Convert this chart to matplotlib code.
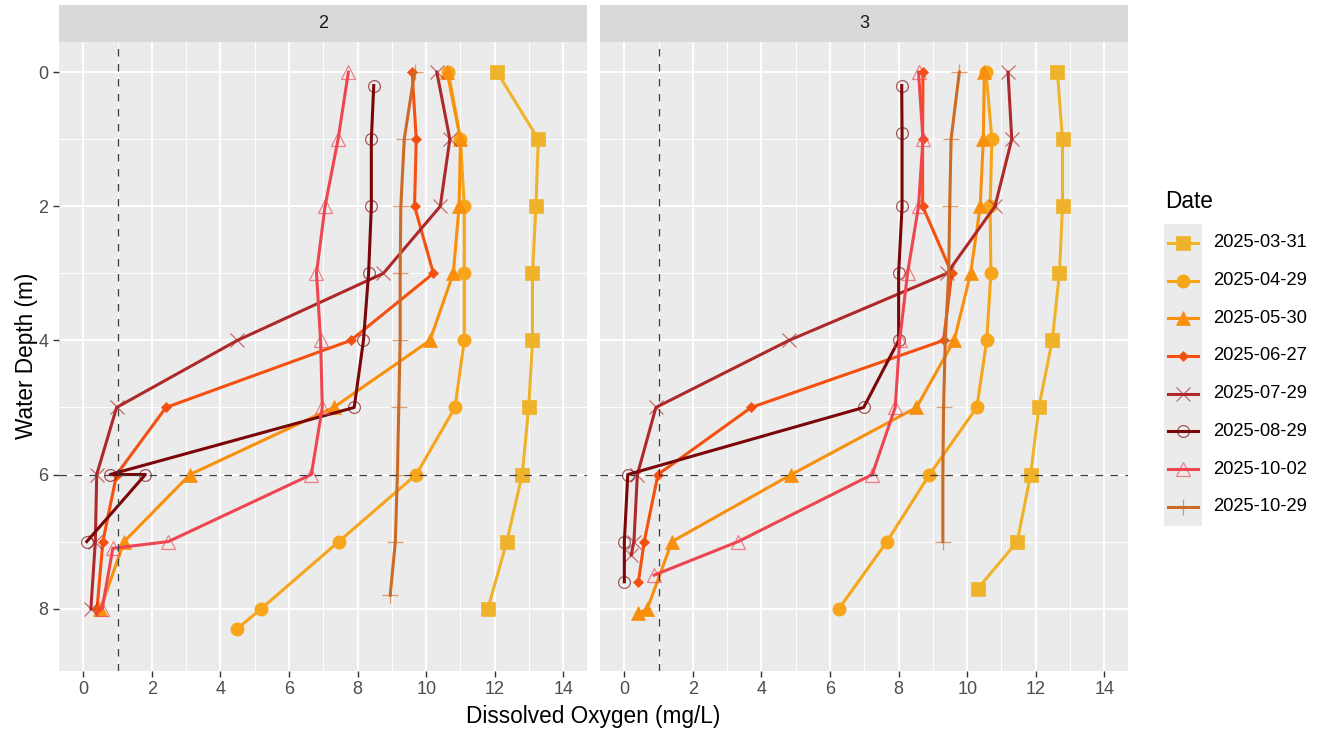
import matplotlib
matplotlib.use("Agg")
import matplotlib.pyplot as plt
from matplotlib.ticker import MultipleLocator

plt.rcParams["font.family"] = ["Liberation Sans", "DejaVu Sans"]

# ---- data: dissolved oxygen (mg/L) by water depth (m), per station and date ----
dates = ["2025-03-31", "2025-04-29", "2025-05-30", "2025-06-27",
         "2025-07-29", "2025-08-29", "2025-10-02", "2025-10-29"]
stations = ["2", "3"]

# Station 2
s2_0331_depth = [0, 1, 2, 3, 4, 5, 6, 7, 8]
s2_0331_do = [12.07, 13.27, 13.2, 13.1, 13.1, 12.99, 12.8, 12.35, 11.8]
s2_0429_depth = [0, 1, 2, 3, 4, 5, 6, 7, 8, 8.3]
s2_0429_do = [10.65, 11.0, 11.11, 11.11, 11.11, 10.84, 9.71, 7.45, 5.19, 4.49]
s2_0530_depth = [0, 1, 2, 3, 4, 5, 6, 7, 8]
s2_0530_do = [10.61, 11.0, 10.96, 10.79, 10.11, 7.3, 3.11, 1.19, 0.5]
s2_0627_depth = [0, 1, 2, 3, 4, 5, 6, 7, 8]
s2_0627_do = [9.59, 9.71, 9.66, 10.21, 7.8, 2.41, 0.97, 0.57, 0.4]
s2_0729_depth = [0, 1, 2, 3, 4, 5, 6, 7, 8]
s2_0729_do = [10.31, 10.69, 10.41, 8.75, 4.49, 0.97, 0.39, 0.35, 0.22]
s2_0829_depth = [0.2, 1, 2, 3, 4, 5, 6, 6, 7]
s2_0829_do = [8.47, 8.4, 8.4, 8.32, 8.17, 7.9, 0.78, 1.81, 0.1]
s2_1002_depth = [0, 1, 2, 3, 4, 5, 6, 7, 7.1, 8]
s2_1002_do = [7.73, 7.43, 7.05, 6.8, 6.92, 6.97, 6.65, 2.48, 0.86, 0.55]
s2_1029_depth = [0, 1, 2, 3, 4, 5, 6, 7, 7.8]
s2_1029_do = [9.66, 9.36, 9.26, 9.24, 9.24, 9.2, 9.16, 9.1, 8.95]

# Station 3
s3_0331_depth = [0, 1, 2, 3, 4, 5, 6, 7, 7.7]
s3_0331_do = [12.63, 12.78, 12.78, 12.69, 12.48, 12.09, 11.85, 11.46, 10.31]
s3_0429_depth = [0, 1, 2, 3, 4, 5, 6, 7, 8]
s3_0429_do = [10.55, 10.72, 10.67, 10.69, 10.57, 10.28, 8.9, 7.66, 6.26]
s3_0530_depth = [0, 1, 2, 3, 4, 5, 6, 7, 8, 8.07]
s3_0530_do = [10.5, 10.47, 10.38, 10.1, 9.62, 8.52, 4.87, 1.39, 0.67, 0.41]
s3_0627_depth = [0, 1, 2, 3, 4, 5, 6, 7, 7.6]
s3_0627_do = [8.71, 8.7, 8.7, 9.55, 9.31, 3.7, 0.98, 0.58, 0.41]
s3_0729_depth = [0, 1, 2, 3, 4, 5, 6, 7, 7.2]
s3_0729_do = [11.19, 11.3, 10.81, 9.41, 4.8, 0.92, 0.38, 0.28, 0.2]
s3_0829_depth = [0.2, 0.9, 2, 3, 4, 5, 6, 7, 7.6]
s3_0829_do = [8.09, 8.1, 8.1, 8.0, 8.0, 6.98, 0.1, 0.0, 0.0]
s3_1002_depth = [0, 1, 2, 3, 4, 5, 6, 7, 7.5]
s3_1002_do = [8.58, 8.71, 8.58, 8.26, 8.03, 7.9, 7.23, 3.32, 0.87]
s3_1029_depth = [0, 1, 2, 3, 4, 5, 6, 7]
s3_1029_do = [9.77, 9.53, 9.49, 9.46, 9.36, 9.31, 9.29, 9.29]

do_threshold = 1.0      # vertical reference line (mg/L)
depth_reference = 6.0   # horizontal reference line (m)

series_by_station = {
    "2": [(s2_0331_depth, s2_0331_do), (s2_0429_depth, s2_0429_do),
          (s2_0530_depth, s2_0530_do), (s2_0627_depth, s2_0627_do),
          (s2_0729_depth, s2_0729_do), (s2_0829_depth, s2_0829_do),
          (s2_1002_depth, s2_1002_do), (s2_1029_depth, s2_1029_do)],
    "3": [(s3_0331_depth, s3_0331_do), (s3_0429_depth, s3_0429_do),
          (s3_0530_depth, s3_0530_do), (s3_0627_depth, s3_0627_do),
          (s3_0729_depth, s3_0729_do), (s3_0829_depth, s3_0829_do),
          (s3_1002_depth, s3_1002_do), (s3_1029_depth, s3_1029_do)],
}

# ---- styles per date ----
colors = ["#EEB32A", "#F7A51A", "#F8900E", "#F5500F",
          "#AE2A2A", "#7A0608", "#EE4650", "#CC6B25"]
markers = ["s", "o", "^", "D", "x", "o", "^", "+"]
msizes = [9.5, 9.5, 10.5, 5.5, 10.5, 8.5, 10.5, 12]
filled = [True, True, True, True, False, False, False, False]

W, H = 1322, 735
fig = plt.figure(figsize=(W / 100, H / 100), dpi=100)
fig.patch.set_facecolor("white")


def rect(x0, y0, x1, y1):
    return [x0 / W, 1 - y1 / H, (x1 - x0) / W, (y1 - y0) / H]


panel_boxes = {"2": (59, 42, 587, 671), "3": (600, 42, 1128, 671)}
strip_top = 5

for si, st in enumerate(stations):
    x0, y0, x1, y1 = panel_boxes[st]
    ax = fig.add_axes(rect(x0, y0, x1, y1))
    ax.set_facecolor("#EBEBEB")
    for sp in ax.spines.values():
        sp.set_visible(False)
    ax.set_xlim(-0.71, 14.69)
    ax.set_ylim(8.93, -0.45)
    ax.xaxis.set_major_locator(MultipleLocator(2))
    ax.xaxis.set_minor_locator(MultipleLocator(1))
    ax.yaxis.set_major_locator(MultipleLocator(2))
    ax.yaxis.set_minor_locator(MultipleLocator(1))
    ax.grid(which="major", color="white", linewidth=1.4)
    ax.grid(which="minor", color="white", linewidth=0.7)
    ax.set_axisbelow(True)
    ax.tick_params(which="minor", length=0)
    ax.tick_params(which="major", length=4.5, width=1.0, color="#333333",
                   labelsize=13, labelcolor="#4D4D4D", pad=3)
    if si > 0:
        ax.tick_params(axis="y", which="both", left=False, labelleft=False)

    for i, (depth, do) in enumerate(series_by_station[st]):
        c = colors[i]
        if filled[i]:
            ax.plot(do, depth, color=c, linewidth=2.2, marker=markers[i],
                    markersize=msizes[i], markerfacecolor=c, markeredgecolor=c,
                    markeredgewidth=0.5, zorder=3 + i * 0.1)
        else:
            ax.plot(do, depth, color=c, linewidth=2.2, zorder=3 + i * 0.1)
            ax.plot(do, depth, linestyle="none", marker=markers[i],
                    markersize=msizes[i], markerfacecolor="none",
                    markeredgecolor=c, markeredgewidth=0.9, alpha=0.65,
                    zorder=3.05 + i * 0.1)

    ax.axvline(do_threshold, color="#3C3C3C", linewidth=0.9,
               dashes=(6, 6), zorder=10)
    ax.axhline(depth_reference, color="#3C3C3C", linewidth=0.9,
               dashes=(6, 6), zorder=10)

    # facet strip
    sax = fig.add_axes(rect(x0, strip_top, x1, y0))
    sax.set_facecolor("#D9D9D9")
    sax.set_xticks([])
    sax.set_yticks([])
    for sp in sax.spines.values():
        sp.set_visible(False)
    sax.text(0.5, 0.5, st, ha="center", va="center", fontsize=13,
             color="#1A1A1A", transform=sax.transAxes)

# axis titles
fig.text((59 + 1128) / 2 / W, 1 - 717 / H, "Dissolved Oxygen (mg/L)",
         ha="center", va="center", fontsize=16.3, color="black")
fig.text(27 / W, 1 - 356 / H, "Water Depth (m)", rotation=90,
         ha="center", va="center", fontsize=16.3, color="black")

# legend
fig.text(1165 / W, 1 - 202 / H, "Date", ha="left", va="center",
         fontsize=16.3, color="black")
key_top, key_step = 224, 37.7
lax = fig.add_axes(rect(1164, key_top, 1202, key_top + key_step * len(dates)))
lax.set_facecolor("#EBEBEB")
lax.set_xlim(0, 1)
lax.set_ylim(len(dates), 0)
lax.set_xticks([])
lax.set_yticks([])
for sp in lax.spines.values():
    sp.set_visible(False)
for i, d in enumerate(dates):
    yk = i + 0.5
    c = colors[i]
    lax.plot([0.1, 0.9], [yk, yk], color=c, linewidth=2.2)
    if filled[i]:
        lax.plot([0.5], [yk], marker=markers[i], markersize=msizes[i],
                 color=c, markeredgecolor=c, markeredgewidth=0.5)
    else:
        lax.plot([0.5], [yk], marker=markers[i], markersize=msizes[i],
                 markerfacecolor="none", markeredgecolor=c,
                 markeredgewidth=0.9, alpha=0.65, linestyle="none")
    fig.text(1213 / W, 1 - (key_top + key_step * (i + 0.5)) / H, d,
             ha="left", va="center", fontsize=13.2, color="black")

fig.savefig("out.png", dpi=100)
